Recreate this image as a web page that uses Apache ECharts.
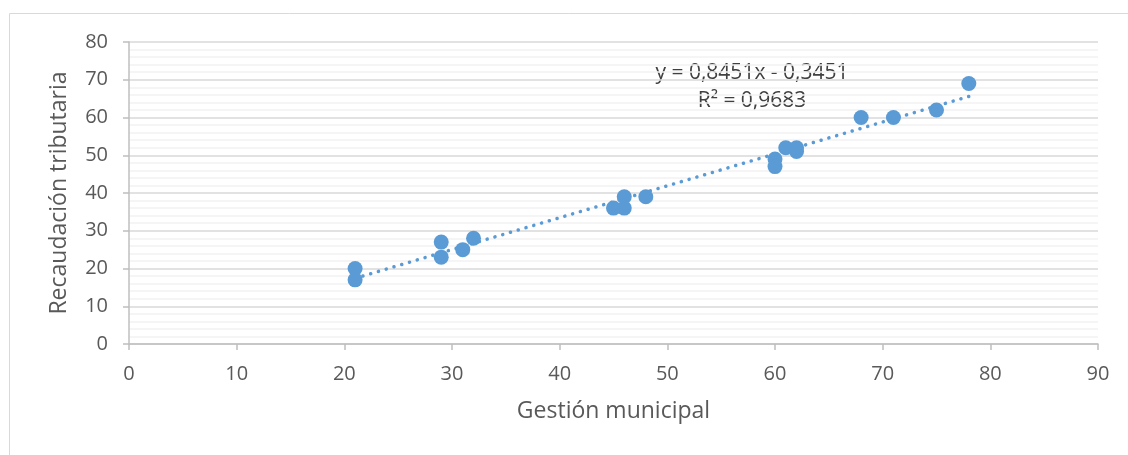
<!DOCTYPE html>
<html>
<head>
<meta charset="utf-8">
<script src="https://cdn.jsdelivr.net/npm/echarts@6/dist/echarts.min.js"></script>
<style>html,body{margin:0;padding:0;background:#fff}#c{width:1128px;height:455px}</style>
</head>
<body>
<div id="c"></div>
<script>
const gestion = [21, 21, 29, 29, 31, 32, 45, 46, 46, 48, 60, 60, 61, 62, 62, 68, 71, 75, 78];
const recaudacion = [20, 17, 27, 23, 25, 28, 36, 39, 36, 39, 49, 47, 52, 52, 51, 60, 60, 62, 69];
const slope = 0.8451;
const intercept = -0.3451;
const equationText = 'y = 0,8451x - 0,3451';
const r2Text = 'R² = 0,9683';
const xTitle = 'Gestión municipal';
const yTitle = 'Recaudación tributaria';

const points = gestion.map((x, i) => [x, recaudacion[i]]);
const xMinData = Math.min(...gestion), xMaxData = Math.max(...gestion);
const trend = [[xMinData, slope * xMinData + intercept], [xMaxData, slope * xMaxData + intercept]];

const FONT = 'Open Sans, Lato, sans-serif';
const chart = echarts.init(document.getElementById('c'), null, {renderer: 'canvas'});
chart.setOption({
  animation: false,
  backgroundColor: '#fff',
  grid: {left: 129, right: 30, top: 42, bottom: 111, containLabel: false},
  graphic: [
    {type: 'rect', shape: {x: 9.5, y: 13.5, width: 1130, height: 460}, style: {fill: 'none', stroke: '#D9D9D9', lineWidth: 1}, silent: true, z: -1},
    {type: 'text', style: {text: equationText, x: 752, y: 73, align: 'center', verticalAlign: 'middle', fontSize: 21, fontFamily: FONT, fill: '#404040'}},
    {type: 'text', style: {text: r2Text, x: 752, y: 101, align: 'center', verticalAlign: 'middle', fontSize: 21, fontFamily: FONT, fill: '#404040'}}
  ],
  xAxis: {
    type: 'value', min: 0, max: 90, interval: 10,
    name: xTitle, nameLocation: 'middle', nameGap: 56,
    nameTextStyle: {fontSize: 23, fontFamily: FONT, color: '#595959'},
    axisLine: {show: true, lineStyle: {color: '#BFBFBF', width: 1.5}},
    axisTick: {show: true, length: 6, lineStyle: {color: '#BFBFBF', width: 1.5}},
    axisLabel: {fontSize: 20, fontFamily: FONT, color: '#595959', margin: 20},
    splitLine: {show: false}
  },
  yAxis: {
    type: 'value', min: 0, max: 80, interval: 10,
    name: yTitle, nameLocation: 'middle', nameGap: 58, nameRotate: 90,
    nameTextStyle: {fontSize: 23, fontFamily: FONT, color: '#595959'},
    axisLine: {show: true, lineStyle: {color: '#BFBFBF', width: 1.5}},
    axisTick: {show: true, length: 6, lineStyle: {color: '#BFBFBF', width: 1.5}},
    axisLabel: {fontSize: 20, fontFamily: FONT, color: '#595959', margin: 21},
    splitLine: {show: true, lineStyle: {color: '#D9D9D9', width: 1.5}},
    minorTick: {show: false, splitNumber: 5},
    minorSplitLine: {show: true, lineStyle: {color: '#F2F2F2', width: 1.5}}
  },
  series: [
    {
      type: 'line', data: trend, symbol: 'none', z: 1,
      lineStyle: {color: '#5B9BD5', width: 3.5, type: [0.1, 8], cap: 'round'}
    },
    {
      type: 'scatter', data: points, symbol: 'circle', symbolSize: 15, z: 2,
      itemStyle: {color: '#5B9BD5', opacity: 1}
    }
  ]
});
</script>
</body>
</html>
